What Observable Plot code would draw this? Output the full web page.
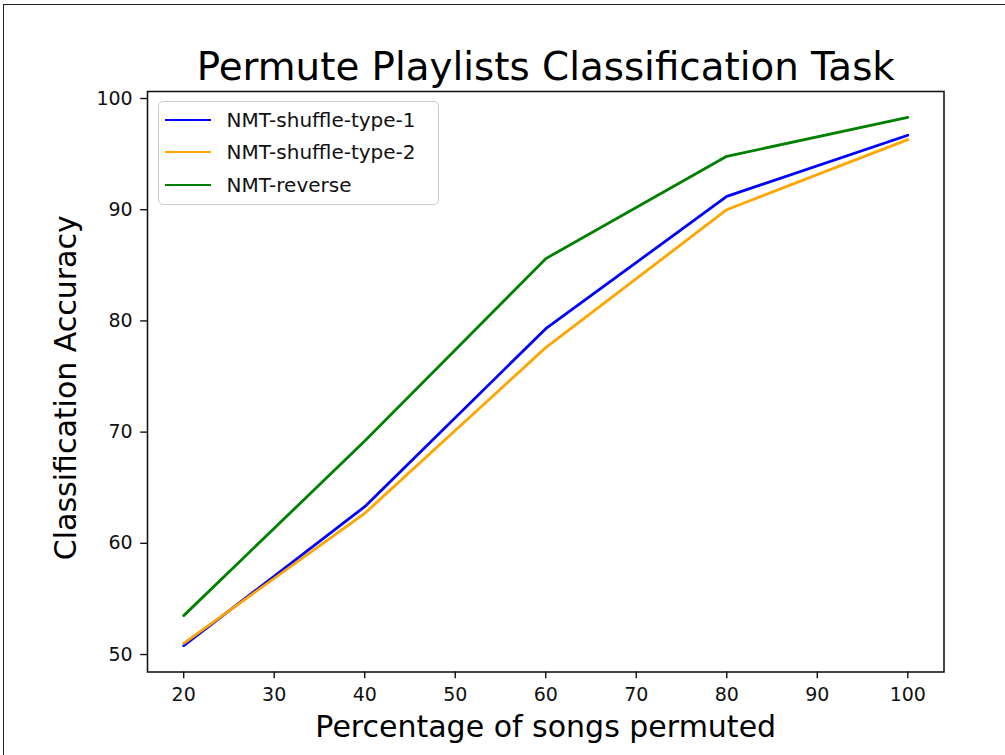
<!DOCTYPE html>
<html>
<head>
<meta charset="utf-8">
<script src="https://cdn.jsdelivr.net/npm/d3@7"></script>
<script src="https://cdn.jsdelivr.net/npm/@observablehq/plot@0.6"></script>
<style>
  html, body { margin: 0; padding: 0; background: #fff; }
  body { width: 1005px; height: 755px; overflow: hidden; font-family: "DejaVu Sans", sans-serif; }
  #wrap { position: relative; width: 1005px; height: 755px; }
  #border { position: absolute; left: 3px; top: 4px; width: 1010px; height: 760px; border-left: 1.5px solid #222; border-top: 1.5px solid #222; pointer-events: none; }
  #legend { position: absolute; left: 158px; top: 101px; width: 281px; height: 104px; border: 1.5px solid #cccccc; border-radius: 5px; background: rgba(255,255,255,0.8); box-sizing: border-box; }
  .item { position: absolute; left: 0; height: 26px; display: flex; align-items: center; font-size: 20px; color: #111; white-space: nowrap; }
  .sw { width: 46px; height: 0; border-top: 2.8px solid; margin-left: 5.5px; margin-right: 16px; }
</style>
</head>
<body>
<div id="wrap"><div id="chart"></div><div id="legend"></div><div id="border"></div></div>
<script>
const percentages = [20, 40, 60, 80, 100];
const seriesNames = ["NMT-shuffle-type-1", "NMT-shuffle-type-2", "NMT-reverse"];
const seriesColors = ["blue", "orange", "green"];
const shuffle1 = [50.8, 63.3, 79.3, 91.2, 96.7];
const shuffle2 = [51.0, 62.7, 77.6, 90.0, 96.3];
const reverse = [53.5, 69.2, 85.6, 94.8, 98.3];
const xTicks = [20, 30, 40, 50, 60, 70, 80, 90, 100];
const yTicks = [50, 60, 70, 80, 90, 100];

const values = [shuffle1, shuffle2, reverse];
const data = [];
seriesNames.forEach((s, i) => percentages.forEach((p, j) => data.push({series: s, x: p, y: values[i][j]})));

const chart = Plot.plot({
  width: 1005,
  height: 755,
  marginLeft: 147,
  marginRight: 61.5,
  marginTop: 91,
  marginBottom: 83.5,
  style: {fontFamily: "DejaVu Sans, sans-serif", fontSize: "19px", color: "#111", background: "#fff"},
  x: {domain: [16, 104], label: null},
  y: {domain: [48.43, 100.63], label: null},
  color: {domain: seriesNames, range: seriesColors},
  marks: [
    Plot.line(data, {x: "x", y: "y", z: "series", stroke: "series", strokeWidth: 2.8}),
    Plot.frame({stroke: "#111", strokeWidth: 1.55}),
    Plot.axisX({ticks: xTicks, tickSize: 6.8, tickPadding: 9, fontSize: 19, label: null, strokeWidth: 1.4}),
    Plot.axisY({ticks: yTicks, tickSize: 6.8, tickPadding: 8, fontSize: 19, label: null, strokeWidth: 1.4}),
    Plot.text(["Permute Playlists Classification Task"], {frameAnchor: "top", lineAnchor: "bottom", dy: -12, fontSize: 38.8, fill: "#000", text: d => d}),
    Plot.text(["Percentage of songs permuted"], {frameAnchor: "bottom", lineAnchor: "bottom", dy: 64.5, fontSize: 30, fill: "#000", text: d => d}),
    Plot.text(["Classification Accuracy"], {frameAnchor: "left", textAnchor: "middle", dx: -81, dy: 6, rotate: -90, fontSize: 30, fill: "#000", text: d => d})
  ]
});
document.getElementById("chart").appendChild(chart);

const legend = document.getElementById("legend");
seriesNames.forEach((s, i) => {
  const it = document.createElement("div");
  it.className = "item";
  it.style.top = (5 + i * 32.3) + "px";
  const sw = document.createElement("div");
  sw.className = "sw";
  sw.style.borderTopColor = seriesColors[i];
  const tx = document.createElement("span");
  tx.textContent = s;
  it.appendChild(sw); it.appendChild(tx);
  legend.appendChild(it);
});
</script>
</body>
</html>
